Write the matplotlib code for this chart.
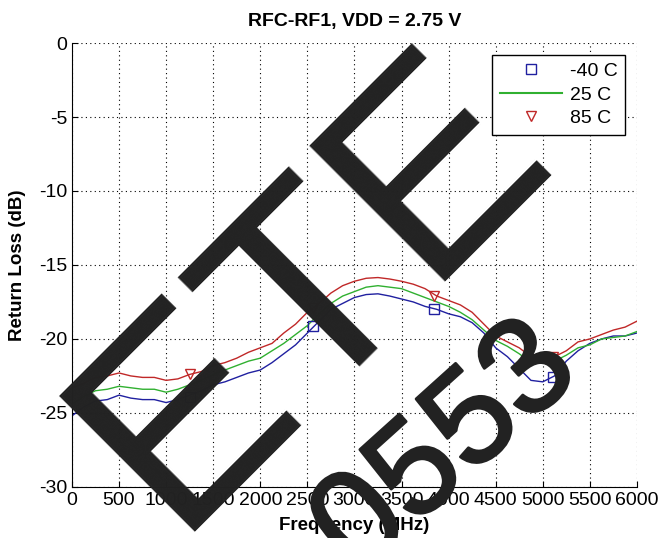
import matplotlib
matplotlib.use("Agg")
import matplotlib.pyplot as plt
import matplotlib.patheffects as pe
from matplotlib.lines import Line2D

plt.rcParams['font.family'] = ['Liberation Sans', 'DejaVu Sans']
plt.rcParams['axes.unicode_minus'] = False

# frequency grid (MHz), 125 MHz steps
freq = [0, 125, 250, 375, 500, 625, 750, 875, 1000, 1125, 1250, 1375, 1500,
        1625, 1750, 1875, 2000, 2125, 2250, 2375, 2500, 2625, 2750, 2875,
        3000, 3125, 3250, 3375, 3500, 3625, 3750, 3875, 4000, 4125, 4250,
        4375, 4500, 4625, 4750, 4875, 5000, 5125, 5250, 5375, 5500, 5625,
        5750, 5875, 6000]

rl_m40 = [-25.2, -24.6, -24.2, -24.1, -23.8, -24.0, -24.1, -24.1, -24.3, -24.1,
          -23.8, -23.5, -23.1, -22.9, -22.6, -22.3, -22.1, -21.6, -21.0, -20.4,
          -19.6, -18.8, -18.0, -17.6, -17.2, -17.0, -16.95, -17.1, -17.3, -17.5,
          -17.8, -18.0, -18.3, -18.5, -18.9, -19.6, -20.6, -21.2, -22.0, -22.8,
          -22.9, -22.5, -21.5, -20.8, -20.3, -20.0, -19.8, -19.8, -19.6]

rl_25 = [-24.4, -23.9, -23.5, -23.4, -23.2, -23.3, -23.4, -23.4, -23.6, -23.4,
         -23.1, -22.8, -22.4, -22.1, -21.8, -21.5, -21.3, -20.8, -20.3, -19.7,
         -19.1, -18.3, -17.6, -17.1, -16.8, -16.5, -16.4, -16.5, -16.6, -16.9,
         -17.2, -17.5, -17.8, -18.2, -18.7, -19.4, -20.1, -20.5, -21.0, -21.6,
         -21.6, -21.5, -21.1, -20.6, -20.4, -20.0, -19.9, -19.8, -19.5]

rl_85 = [-23.3, -23.0, -22.6, -22.5, -22.3, -22.5, -22.6, -22.6, -22.8, -22.7,
         -22.4, -22.2, -21.8, -21.6, -21.3, -20.9, -20.6, -20.3, -19.6, -19.0,
         -18.2, -17.6, -16.9, -16.4, -16.1, -15.9, -15.85, -15.95, -16.1, -16.3,
         -16.6, -17.1, -17.4, -17.7, -18.2, -19.0, -19.8, -20.2, -20.6, -21.2,
         -21.3, -21.2, -20.8, -20.2, -20.0, -19.7, -19.4, -19.2, -18.8]

# marker positions
mark_freq = [1250, 2560, 3840, 5110]
mark_m40 = [-23.9, -19.1, -18.0, -22.6]
mark_85 = [-22.4, -17.9, -17.1, -21.2]

c_blue = "#2020a0"
c_green = "#30b030"
c_red = "#c02828"

fig = plt.figure(figsize=(6.6, 5.38), dpi=100)
ax = fig.add_axes([0.109, 0.095, 0.856, 0.825])

ax.plot(freq, rl_m40, color=c_blue, lw=1.0)
ax.plot(freq, rl_25, color=c_green, lw=1.0)
ax.plot(freq, rl_85, color=c_red, lw=1.0)
ax.plot(mark_freq, mark_m40, ls="none", marker="s", ms=7, mfc="none", mec=c_blue, mew=1.0)
ax.plot(mark_freq, mark_85, ls="none", marker="v", ms=7, mfc="none", mec=c_red, mew=1.0)

ax.set_xlim(0, 6000)
ax.set_ylim(-30, 0)
ax.set_xticks(range(0, 6001, 500))
ax.set_yticks(range(-30, 1, 5))
ax.grid(True, color="black", ls=(0, (1, 3)), lw=0.8)
for s in ("top", "right"):
    ax.spines[s].set_visible(False)
ax.tick_params(direction="in", length=4, top=False, right=False)
for lab in ax.get_xticklabels() + ax.get_yticklabels():
    lab.set_family(['Liberation Sans Narrow', 'Liberation Sans'])
    lab.set_fontsize(14)

ax.set_title("RFC-RF1, VDD = 2.75 V", fontsize=14, fontweight="bold", pad=12)
ax.set_xlabel("Frequency (MHz)", fontsize=13.5, fontweight="bold", labelpad=6)
ax.set_ylabel("Return Loss (dB)", fontsize=13.5, fontweight="bold")
ax.yaxis.set_label_coords(-0.082, 0.5)

handles = [
    Line2D([], [], ls="none", marker="s", ms=7, mfc="none", mec=c_blue),
    Line2D([], [], color=c_green, lw=1.5),
    Line2D([], [], ls="none", marker="v", ms=7, mfc="none", mec=c_red),
]
leg = ax.legend(handles, ["-40 C", "25 C", "85 C"], loc="upper right",
                fontsize=14, fancybox=False, edgecolor="black", framealpha=1,
                handlelength=3.2, handletextpad=0.4, borderaxespad=0.6,
                labelspacing=0.3, borderpad=0.4)
leg.get_frame().set_linewidth(1.0)

# watermark overlay
wm = "#222222"
fig.text(172 / 660, 1 - 532 / 538, "ETE", fontsize=200, color=wm, rotation=45,
         rotation_mode="anchor", ha="left", va="baseline", zorder=10)
fig.text(447 / 660, 1 - 450 / 538, "0553", fontsize=98, color=wm, rotation=42,
         rotation_mode="anchor", ha="center", va="center", zorder=10,
         path_effects=[pe.withStroke(linewidth=2, foreground=wm)])

fig.savefig("out.png", dpi=100)
